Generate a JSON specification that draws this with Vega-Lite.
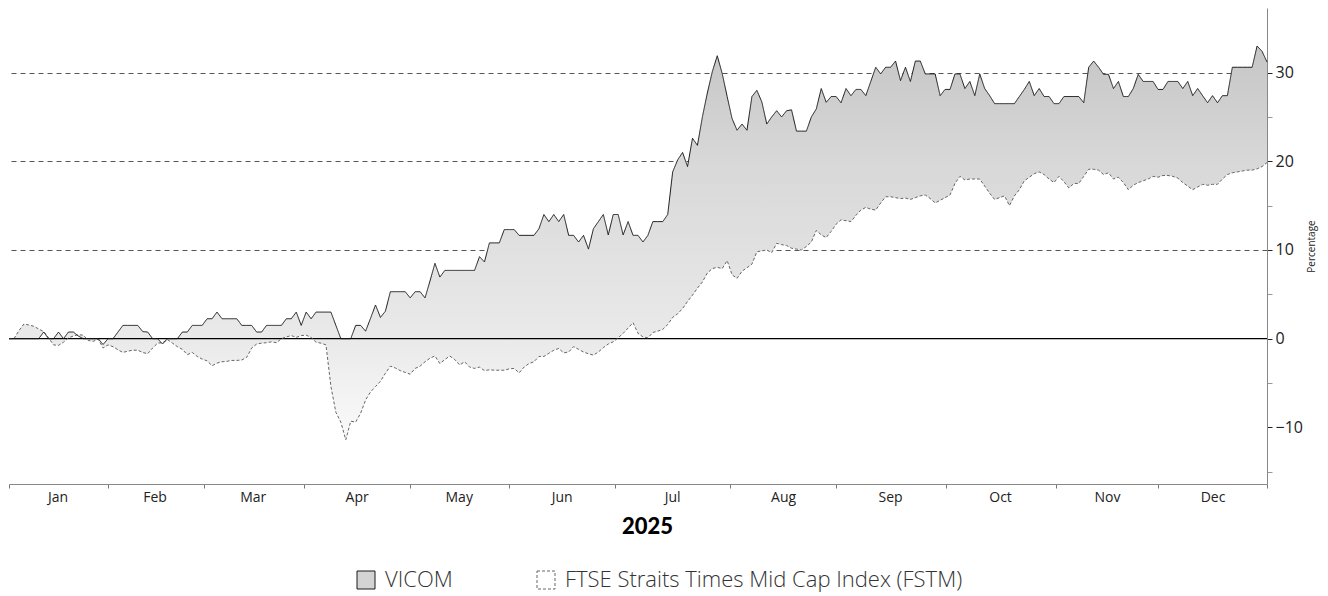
{
  "$schema": "https://vega.github.io/schema/vega-lite/v6.json",
  "width": 1258,
  "height": 476,
  "autosize": {"type": "none"},
  "padding": {"left": 9, "top": 8, "right": 61, "bottom": 112},
  "background": "white",
  "config": {"view": {"stroke": null}, "font": "Open Sans"},
  "data": {"values": [
{"day":0,"VICOM":0,"FSTM":0},{"day":1,"VICOM":0,"FSTM":0},{"day":2,"VICOM":0,"FSTM":0.9},{"day":3,"VICOM":0,"FSTM":1.65},{"day":4,"VICOM":0,"FSTM":1.55},{"day":5,"VICOM":0,"FSTM":1.4},{"day":6,"VICOM":0,"FSTM":1.1},{"day":7,"VICOM":0.75,"FSTM":0.8},{"day":8,"VICOM":0,"FSTM":0.1},{"day":9,"VICOM":0,"FSTM":-0.7},
{"day":10,"VICOM":0.75,"FSTM":-0.75},{"day":11,"VICOM":0,"FSTM":-0.4},{"day":12,"VICOM":0.75,"FSTM":0.1},{"day":13,"VICOM":0.75,"FSTM":0.3},{"day":14,"VICOM":0.3,"FSTM":0.45},{"day":15,"VICOM":0,"FSTM":0.4},{"day":16,"VICOM":0,"FSTM":-0.2},{"day":17,"VICOM":0,"FSTM":-0.3},{"day":18,"VICOM":0,"FSTM":-0.05},{"day":19,"VICOM":-0.65,"FSTM":-1.05},
{"day":20,"VICOM":0,"FSTM":-0.7},{"day":21,"VICOM":0,"FSTM":-0.9},{"day":22,"VICOM":0.75,"FSTM":-1.25},{"day":23,"VICOM":1.5,"FSTM":-1.55},{"day":24,"VICOM":1.5,"FSTM":-1.4},{"day":25,"VICOM":1.5,"FSTM":-1.3},{"day":26,"VICOM":1.5,"FSTM":-1.3},{"day":27,"VICOM":0.8,"FSTM":-1.55},{"day":28,"VICOM":0.75,"FSTM":-1.7},{"day":29,"VICOM":0,"FSTM":-1.05},
{"day":30,"VICOM":0,"FSTM":-0.5},{"day":31,"VICOM":-0.6,"FSTM":-0.45},{"day":32,"VICOM":0,"FSTM":-0.1},{"day":33,"VICOM":0,"FSTM":-0.5},{"day":34,"VICOM":0,"FSTM":-0.9},{"day":35,"VICOM":0.75,"FSTM":-1.2},{"day":36,"VICOM":0.75,"FSTM":-1.8},{"day":37,"VICOM":1.5,"FSTM":-1.55},{"day":38,"VICOM":1.5,"FSTM":-2.0},{"day":39,"VICOM":1.5,"FSTM":-2.3},
{"day":40,"VICOM":2.25,"FSTM":-2.5},{"day":41,"VICOM":2.25,"FSTM":-3.05},{"day":42,"VICOM":3.0,"FSTM":-2.75},{"day":43,"VICOM":2.25,"FSTM":-2.6},{"day":44,"VICOM":2.25,"FSTM":-2.55},{"day":45,"VICOM":2.25,"FSTM":-2.45},{"day":46,"VICOM":2.25,"FSTM":-2.45},{"day":47,"VICOM":1.5,"FSTM":-2.4},{"day":48,"VICOM":1.5,"FSTM":-2.1},{"day":49,"VICOM":1.5,"FSTM":-1.05},
{"day":50,"VICOM":0.75,"FSTM":-0.6},{"day":51,"VICOM":0.75,"FSTM":-0.5},{"day":52,"VICOM":1.5,"FSTM":-0.45},{"day":53,"VICOM":1.5,"FSTM":-0.35},{"day":54,"VICOM":1.5,"FSTM":-0.45},{"day":55,"VICOM":1.5,"FSTM":0.0},{"day":56,"VICOM":2.25,"FSTM":0.2},{"day":57,"VICOM":2.25,"FSTM":0.35},{"day":58,"VICOM":3.0,"FSTM":0.15},{"day":59,"VICOM":1.5,"FSTM":0.35},
{"day":60,"VICOM":3.0,"FSTM":0.4},{"day":61,"VICOM":2.25,"FSTM":0.15},{"day":62,"VICOM":3.0,"FSTM":-0.4},{"day":63,"VICOM":3.0,"FSTM":-0.5},{"day":64,"VICOM":3.0,"FSTM":-0.7},{"day":65,"VICOM":3.0,"FSTM":-5.4},{"day":66,"VICOM":1.5,"FSTM":-8.3},{"day":67,"VICOM":0,"FSTM":-9.4},{"day":68,"VICOM":0,"FSTM":-11.4},{"day":69,"VICOM":0,"FSTM":-9.3},
{"day":70,"VICOM":1.5,"FSTM":-9.4},{"day":71,"VICOM":1.5,"FSTM":-8.4},{"day":72,"VICOM":0.85,"FSTM":-6.9},{"day":73,"VICOM":2.3,"FSTM":-6.0},{"day":74,"VICOM":3.8,"FSTM":-5.4},{"day":75,"VICOM":2.4,"FSTM":-4.8},{"day":76,"VICOM":3.1,"FSTM":-3.9},{"day":77,"VICOM":5.3,"FSTM":-3.1},{"day":78,"VICOM":5.3,"FSTM":-3.3},{"day":79,"VICOM":5.3,"FSTM":-3.6},
{"day":80,"VICOM":5.3,"FSTM":-3.8},{"day":81,"VICOM":4.6,"FSTM":-4.0},{"day":82,"VICOM":5.3,"FSTM":-3.35},{"day":83,"VICOM":5.3,"FSTM":-3.1},{"day":84,"VICOM":4.6,"FSTM":-2.6},{"day":85,"VICOM":6.5,"FSTM":-2.2},{"day":86,"VICOM":8.5,"FSTM":-1.95},{"day":87,"VICOM":6.95,"FSTM":-2.8},{"day":88,"VICOM":7.7,"FSTM":-2.35},{"day":89,"VICOM":7.7,"FSTM":-1.95},
{"day":90,"VICOM":7.7,"FSTM":-2.35},{"day":91,"VICOM":7.7,"FSTM":-2.96},{"day":92,"VICOM":7.7,"FSTM":-2.6},{"day":93,"VICOM":7.7,"FSTM":-3.2},{"day":94,"VICOM":7.7,"FSTM":-3.35},{"day":95,"VICOM":9.25,"FSTM":-3.2},{"day":96,"VICOM":8.65,"FSTM":-3.6},{"day":97,"VICOM":10.8,"FSTM":-3.5},{"day":98,"VICOM":10.8,"FSTM":-3.55},{"day":99,"VICOM":10.8,"FSTM":-3.55},
{"day":100,"VICOM":12.3,"FSTM":-3.55},{"day":101,"VICOM":12.3,"FSTM":-3.4},{"day":102,"VICOM":12.3,"FSTM":-3.35},{"day":103,"VICOM":11.65,"FSTM":-3.85},{"day":104,"VICOM":11.65,"FSTM":-3.2},{"day":105,"VICOM":11.65,"FSTM":-2.8},{"day":106,"VICOM":11.65,"FSTM":-2.6},{"day":107,"VICOM":12.4,"FSTM":-2.0},{"day":108,"VICOM":14.0,"FSTM":-2.0},{"day":109,"VICOM":13.2,"FSTM":-1.65},
{"day":110,"VICOM":14.0,"FSTM":-1.3},{"day":111,"VICOM":13.2,"FSTM":-1.1},{"day":112,"VICOM":14.0,"FSTM":-1.6},{"day":113,"VICOM":11.65,"FSTM":-1.5},{"day":114,"VICOM":11.65,"FSTM":-0.9},{"day":115,"VICOM":10.9,"FSTM":-1.2},{"day":116,"VICOM":11.65,"FSTM":-1.5},{"day":117,"VICOM":10.1,"FSTM":-1.7},{"day":118,"VICOM":12.4,"FSTM":-1.85},{"day":119,"VICOM":13.2,"FSTM":-1.5},
{"day":120,"VICOM":14.0,"FSTM":-1.0},{"day":121,"VICOM":11.7,"FSTM":-0.6},{"day":122,"VICOM":14.0,"FSTM":-0.35},{"day":123,"VICOM":14.0,"FSTM":0.1},{"day":124,"VICOM":11.7,"FSTM":0.6},{"day":125,"VICOM":13.2,"FSTM":1.2},{"day":126,"VICOM":11.65,"FSTM":1.8},{"day":127,"VICOM":11.65,"FSTM":0.6},{"day":128,"VICOM":10.9,"FSTM":0.2},{"day":129,"VICOM":11.65,"FSTM":0.1},
{"day":130,"VICOM":13.2,"FSTM":0.7},{"day":131,"VICOM":13.2,"FSTM":0.85},{"day":132,"VICOM":13.2,"FSTM":1.05},{"day":133,"VICOM":14.0,"FSTM":1.6},{"day":134,"VICOM":18.8,"FSTM":2.4},{"day":135,"VICOM":20.15,"FSTM":2.8},{"day":136,"VICOM":21.0,"FSTM":3.4},{"day":137,"VICOM":19.4,"FSTM":4.2},{"day":138,"VICOM":22.6,"FSTM":4.9},{"day":139,"VICOM":21.8,"FSTM":5.7},
{"day":140,"VICOM":25.0,"FSTM":6.4},{"day":141,"VICOM":27.7,"FSTM":7.4},{"day":142,"VICOM":30.1,"FSTM":7.9},{"day":143,"VICOM":31.9,"FSTM":8.05},{"day":144,"VICOM":29.9,"FSTM":7.9},{"day":145,"VICOM":27.3,"FSTM":8.8},{"day":146,"VICOM":24.8,"FSTM":7.2},{"day":147,"VICOM":23.5,"FSTM":6.8},{"day":148,"VICOM":24.2,"FSTM":7.6},{"day":149,"VICOM":23.5,"FSTM":8.0},
{"day":150,"VICOM":27.3,"FSTM":8.4},{"day":151,"VICOM":28.0,"FSTM":9.8},{"day":152,"VICOM":26.7,"FSTM":9.9},{"day":153,"VICOM":24.2,"FSTM":10.0},{"day":154,"VICOM":25.0,"FSTM":9.7},{"day":155,"VICOM":25.7,"FSTM":10.75},{"day":156,"VICOM":25.0,"FSTM":10.6},{"day":157,"VICOM":25.7,"FSTM":10.5},{"day":158,"VICOM":25.8,"FSTM":10.2},{"day":159,"VICOM":23.4,"FSTM":10.1},
{"day":160,"VICOM":23.4,"FSTM":10.0},{"day":161,"VICOM":23.4,"FSTM":10.4},{"day":162,"VICOM":25.0,"FSTM":10.9},{"day":163,"VICOM":25.9,"FSTM":12.2},{"day":164,"VICOM":28.2,"FSTM":11.7},{"day":165,"VICOM":26.65,"FSTM":11.4},{"day":166,"VICOM":27.3,"FSTM":12.1},{"day":167,"VICOM":27.3,"FSTM":12.9},{"day":168,"VICOM":26.6,"FSTM":13.4},{"day":169,"VICOM":28.2,"FSTM":13.3},
{"day":170,"VICOM":27.4,"FSTM":13.2},{"day":171,"VICOM":28.1,"FSTM":13.9},{"day":172,"VICOM":28.1,"FSTM":14.5},{"day":173,"VICOM":27.4,"FSTM":14.8},{"day":174,"VICOM":29.0,"FSTM":14.6},{"day":175,"VICOM":30.6,"FSTM":14.5},{"day":176,"VICOM":29.85,"FSTM":15.3},{"day":177,"VICOM":30.6,"FSTM":16.0},{"day":178,"VICOM":30.6,"FSTM":16.0},{"day":179,"VICOM":31.3,"FSTM":15.9},
{"day":180,"VICOM":29.1,"FSTM":15.8},{"day":181,"VICOM":30.6,"FSTM":15.85},{"day":182,"VICOM":29.0,"FSTM":15.7},{"day":183,"VICOM":31.3,"FSTM":15.9},{"day":184,"VICOM":31.3,"FSTM":16.1},{"day":185,"VICOM":29.85,"FSTM":16.2},{"day":186,"VICOM":29.85,"FSTM":15.8},{"day":187,"VICOM":29.85,"FSTM":15.3},{"day":188,"VICOM":27.4,"FSTM":15.6},{"day":189,"VICOM":28.1,"FSTM":15.9},
{"day":190,"VICOM":28.1,"FSTM":16.2},{"day":191,"VICOM":29.85,"FSTM":17.5},{"day":192,"VICOM":29.85,"FSTM":18.3},{"day":193,"VICOM":28.2,"FSTM":17.9},{"day":194,"VICOM":29.0,"FSTM":18.0},{"day":195,"VICOM":27.4,"FSTM":18.0},{"day":196,"VICOM":29.85,"FSTM":18.0},{"day":197,"VICOM":28.2,"FSTM":17.2},{"day":198,"VICOM":27.4,"FSTM":16.4},{"day":199,"VICOM":26.5,"FSTM":15.7},
{"day":200,"VICOM":26.5,"FSTM":15.9},{"day":201,"VICOM":26.5,"FSTM":16.1},{"day":202,"VICOM":26.5,"FSTM":15.0},{"day":203,"VICOM":26.5,"FSTM":16.1},{"day":204,"VICOM":27.3,"FSTM":16.8},{"day":205,"VICOM":28.1,"FSTM":17.8},{"day":206,"VICOM":29.0,"FSTM":18.2},{"day":207,"VICOM":27.4,"FSTM":18.6},{"day":208,"VICOM":28.2,"FSTM":18.8},{"day":209,"VICOM":27.3,"FSTM":18.5},
{"day":210,"VICOM":27.3,"FSTM":18.0},{"day":211,"VICOM":26.5,"FSTM":17.6},{"day":212,"VICOM":26.5,"FSTM":18.3},{"day":213,"VICOM":27.3,"FSTM":17.7},{"day":214,"VICOM":27.3,"FSTM":17.0},{"day":215,"VICOM":27.3,"FSTM":17.5},{"day":216,"VICOM":27.3,"FSTM":17.5},{"day":217,"VICOM":26.6,"FSTM":18.3},{"day":218,"VICOM":30.6,"FSTM":19.1},{"day":219,"VICOM":31.3,"FSTM":19.1},
{"day":220,"VICOM":30.6,"FSTM":19.0},{"day":221,"VICOM":29.8,"FSTM":18.5},{"day":222,"VICOM":29.8,"FSTM":18.7},{"day":223,"VICOM":28.2,"FSTM":18.0},{"day":224,"VICOM":29.0,"FSTM":18.2},{"day":225,"VICOM":27.3,"FSTM":17.6},{"day":226,"VICOM":27.3,"FSTM":16.8},{"day":227,"VICOM":28.2,"FSTM":17.3},{"day":228,"VICOM":29.8,"FSTM":17.6},{"day":229,"VICOM":29.0,"FSTM":17.8},
{"day":230,"VICOM":29.0,"FSTM":18.0},{"day":231,"VICOM":29.0,"FSTM":18.3},{"day":232,"VICOM":28.1,"FSTM":18.2},{"day":233,"VICOM":28.1,"FSTM":18.4},{"day":234,"VICOM":29.0,"FSTM":18.4},{"day":235,"VICOM":29.0,"FSTM":18.3},{"day":236,"VICOM":29.0,"FSTM":18.1},{"day":237,"VICOM":28.2,"FSTM":17.6},{"day":238,"VICOM":29.0,"FSTM":17.2},{"day":239,"VICOM":27.4,"FSTM":16.8},
{"day":240,"VICOM":28.2,"FSTM":17.1},{"day":241,"VICOM":27.4,"FSTM":17.4},{"day":242,"VICOM":26.6,"FSTM":17.3},{"day":243,"VICOM":27.4,"FSTM":17.4},{"day":244,"VICOM":26.6,"FSTM":17.4},{"day":245,"VICOM":27.4,"FSTM":18.0},{"day":246,"VICOM":27.4,"FSTM":18.5},{"day":247,"VICOM":30.6,"FSTM":18.7},{"day":248,"VICOM":30.6,"FSTM":18.8},{"day":249,"VICOM":30.6,"FSTM":18.9},
{"day":250,"VICOM":30.6,"FSTM":19.0},{"day":251,"VICOM":30.6,"FSTM":19.0},{"day":252,"VICOM":33.0,"FSTM":19.15},{"day":253,"VICOM":32.4,"FSTM":19.4},{"day":254,"VICOM":31.2,"FSTM":19.85}
  ]},
  "layer": [
    {
      "mark": {"type": "area", "opacity": 1, "fillOpacity": 1, "color": {"gradient": "linear", "x1": 0, "y1": 0, "x2": 0, "y2": 1, "stops": [{"offset": 0, "color": "#c6c6c6"}, {"offset": 0.3, "color": "#d8d8d8"}, {"offset": 0.75, "color": "#eaeaea"}, {"offset": 1, "color": "#fafafa"}]}},
      "encoding": {
        "x": {"field": "day", "type": "quantitative", "scale": {"domain": [0, 254], "nice": false, "zero": false},
          "axis": {
            "values": [0, 19.9, 39.3, 59.5, 80.9, 100.9, 122.4, 145.6, 167, 189.2, 211.4, 232, 254, 9.8, 29.4, 49.2, 70.2, 90.8, 111.6, 133.9, 156.3, 177.9, 200.1, 221.7, 243],
            "labelExpr": "indexof([9.8, 29.4, 49.2, 70.2, 90.8, 111.6, 133.9, 156.3, 177.9, 200.1, 221.7, 243], datum.value) >= 0 ? ['Jan','Feb','Mar','Apr','May','Jun','Jul','Aug','Sep','Oct','Nov','Dec'][indexof([9.8, 29.4, 49.2, 70.2, 90.8, 111.6, 133.9, 156.3, 177.9, 200.1, 221.7, 243], datum.value)] : ''",
            "tickOpacity": {"condition": {"test": "indexof([9.8, 29.4, 49.2, 70.2, 90.8, 111.6, 133.9, 156.3, 177.9, 200.1, 221.7, 243], datum.value) >= 0", "value": 0}, "value": 1},
            "labelOverlap": false, "labelFlush": false,
            "labelFontSize": 14, "labelColor": "#222", "labelPadding": 2,
            "tickColor": "#777", "tickSize": 4, "domainColor": "#888", "grid": false,
            "title": "2025", "titleFont": "Lato", "titleFontSize": 22, "titleFontWeight": 900, "titleColor": "#000", "titlePadding": 12, "titleX": 638
          }},
        "y": {"field": "VICOM", "type": "quantitative", "scale": {"domain": [-16.38, 37.28], "nice": false, "zero": false},
          "axis": {
            "orient": "right", "values": [-15, -10, -5, 0, 5, 10, 15, 20, 25, 30],
            "labelExpr": "datum.value % 10 === 0 ? datum.label : ''",
            "labelFontSize": 16, "labelColor": "#222", "labelPadding": 3,
            "tickSize": 5, "tickColor": {"condition": {"test": "datum.value % 10 === 0", "value": "#222"}, "value": "#999"},
            "domainColor": "#888",
            "grid": true, "gridDash": [5, 4], "gridColor": "#555",
            "gridOpacity": {"condition": {"test": "datum.value > 0 && datum.value % 10 === 0", "value": 1}, "value": 0},
            "title": "Percentage", "titleFontSize": 10, "titleFontWeight": "normal", "titleColor": "#222", "titleAngle": 270, "titlePadding": 14
          }},
        "y2": {"field": "FSTM"}
      }
    },
    {
      "data": {"values": [{"base": 0}]},
      "mark": {"type": "rule", "color": "#000", "strokeWidth": 1.3},
      "encoding": {"y": {"field": "base", "type": "quantitative"}}
    },
    {
      "transform": [{"fold": ["FSTM", "VICOM"], "as": ["series", "value"]}],
      "mark": {"type": "line", "strokeWidth": 1, "interpolate": "linear"},
      "encoding": {
        "x": {"field": "day", "type": "quantitative"},
        "y": {"field": "value", "type": "quantitative"},
        "color": {"field": "series", "type": "nominal",
          "scale": {"domain": ["VICOM", "FSTM"], "range": ["#1a1a1a", "#666666"]},
          "legend": {
            "orient": "none", "legendX": 346, "legendY": 561, "direction": "horizontal", "title": null,
            "symbolType": "square", "symbolSize": 324, "symbolStrokeWidth": 1,
            "labelFontSize": 22, "labelFontWeight": 300, "labelColor": "#333", "labelOffset": 8, "columnPadding": 82, "labelLimit": 0,
            "labelExpr": "datum.value === 'VICOM' ? 'VICOM' : 'FTSE Straits Times Mid Cap Index (FSTM)'",
            "encode": {"symbols": {"update": {
              "fill": {"signal": "datum.value === 'VICOM' ? '#d3d3d3' : '#ffffff'"},
              "stroke": {"value": "#666666"},
              "strokeDash": {"signal": "datum.value === 'VICOM' ? [1, 0] : [3, 3]"},
              "opacity": {"value": 1}
            }}}
          }},
        "strokeDash": {"field": "series", "type": "nominal", "scale": {"domain": ["VICOM", "FSTM"], "range": [[1, 0], [3, 2]]}, "legend": null}
      }
    }
  ]
}
